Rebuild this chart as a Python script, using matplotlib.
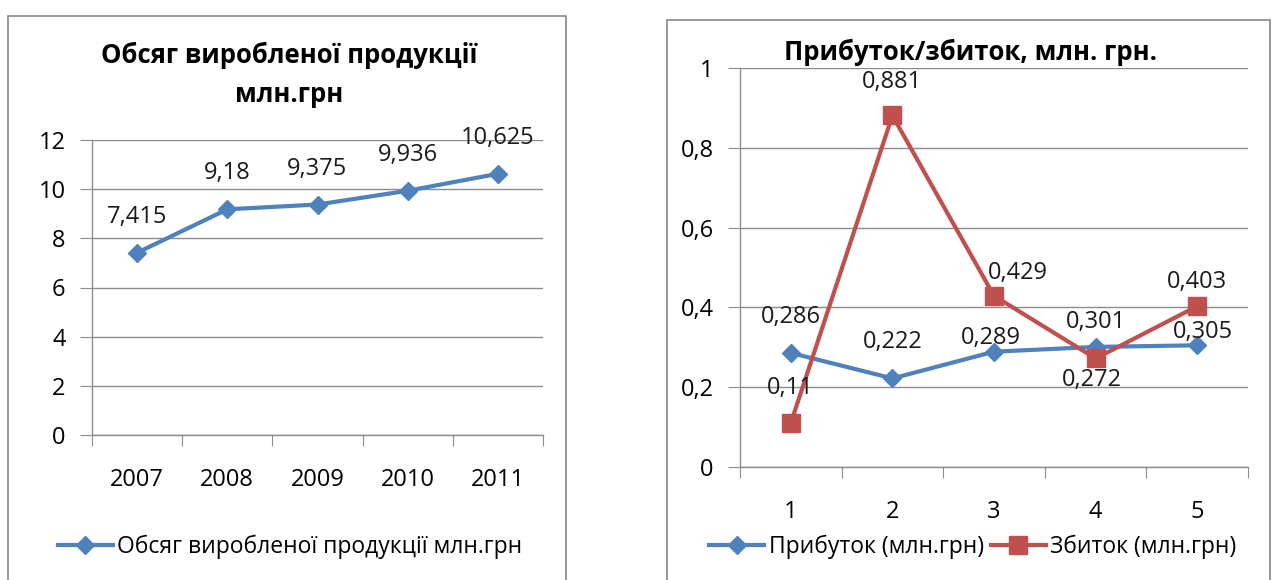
import matplotlib
matplotlib.use('Agg')
import matplotlib.pyplot as plt
from matplotlib.patches import Rectangle

plt.rcParams['font.family'] = ['Open Sans', 'DejaVu Sans']

# дані
years = ['2007', '2008', '2009', '2010', '2011']
obsyag = [7.415, 9.18, 9.375, 9.936, 10.625]

periods = ['1', '2', '3', '4', '5']
prybutok = [0.286, 0.222, 0.289, 0.301, 0.305]
zbytok = [0.11, 0.881, 0.429, 0.272, 0.403]

title_left = 'Обсяг виробленої продукції\nмлн.грн'
title_right = 'Прибуток/збиток, млн. грн.'
legend_left = 'Обсяг виробленої продукції млн.грн'
legend_prybutok = 'Прибуток (млн.грн)'
legend_zbytok = 'Збиток (млн.грн)'

# зсув підписів (пікселі)
off_left = [(0, 36)] * 5
off_pryb = [(0, 36), (0, 36), (-3, 14), (0, 25), (6, 13)]
off_zbyt = [(0, 35), (0, 33), (24, 23), (-4, -22), (0, 24)]

BLUE = '#4F81BD'
RED = '#C0504D'
GRID = '#8C8C8C'
FS = 17


def comma(v):
    return ('%g' % v).replace('.', ',')


def style_axes(ax, n):
    ax.set_xlim(-0.5, n - 0.5)
    ax.set_xticks([i - 0.5 for i in range(n + 1)])
    ax.set_xticklabels([])
    ax.set_xticks(range(n), minor=True)
    ax.tick_params(axis='x', which='major', length=8, color=GRID, direction='out')
    ax.tick_params(axis='x', which='minor', length=0, pad=24, labelsize=FS)
    ax.tick_params(axis='y', length=9, color=GRID, pad=10, labelsize=FS)
    ax.grid(axis='y', color=GRID, lw=1)
    ax.set_axisbelow(True)
    for s in ['top', 'right']:
        ax.spines[s].set_visible(False)
    for s in ['left', 'bottom']:
        ax.spines[s].set_color(GRID)
        ax.spines[s].set_linewidth(1)


def labels(ax, xs, ys, offs):
    for x, y, (dx, dy) in zip(xs, ys, offs):
        ax.annotate(comma(y), (x, y), xytext=(dx, dy), textcoords='offset pixels',
                    ha='center', va='center', fontsize=FS, color='#1a1a1a')


fig = plt.figure(figsize=(12.74, 5.8), dpi=100)

# рамки діаграм
fig.add_artist(Rectangle((8 / 1274, -0.02), 558 / 1274, 1.006 - 8 / 580,
                         transform=fig.transFigure, fill=False, ec='#888888', lw=1.2))
fig.add_artist(Rectangle((667 / 1274, -0.02), 603 / 1274, 1.003 - 10 / 580,
                         transform=fig.transFigure, fill=False, ec='#888888', lw=1.2))

# ліва діаграма
ax1 = fig.add_axes([92 / 1274, 1 - 435 / 580, 451 / 1274, 295 / 580])
x1 = range(len(years))
ax1.plot(x1, obsyag, color=BLUE, lw=3, marker='D', ms=9.5, label=legend_left)
ax1.set_ylim(0, 12)
ax1.set_yticks(range(0, 13, 2))
style_axes(ax1, len(years))
ax1.set_xticklabels(years, minor=True)
labels(ax1, x1, obsyag, off_left)
fig.text(289 / 1274, 1 - 75 / 580, title_left, ha='center', va='center',
         fontsize=18.5, fontweight='bold', linespacing=1.6)
fig.legend(*ax1.get_legend_handles_labels(), loc='center', bbox_to_anchor=(290 / 1274, 1 - 547 / 580),
           frameon=False, fontsize=16.5, handlelength=2.4, handletextpad=0.2)

# права діаграма
ax2 = fig.add_axes([740 / 1274, 1 - 467 / 580, 508 / 1274, 399 / 580])
x2 = range(len(periods))
ax2.plot(x2, prybutok, color=BLUE, lw=3, marker='D', ms=9.5, label=legend_prybutok)
ax2.plot(x2, zbytok, color=RED, lw=3, marker='s', ms=13, label=legend_zbytok)
ax2.set_ylim(0, 1)
yt = [0, 0.2, 0.4, 0.6, 0.8, 1]
ax2.set_yticks(yt)
ax2.set_yticklabels([comma(v) for v in yt])
style_axes(ax2, len(periods))
ax2.set_xticklabels(periods, minor=True)
labels(ax2, x2, prybutok, off_pryb)
labels(ax2, x2, zbytok, off_zbyt)
fig.text(970 / 1274, 1 - 52 / 580, title_right, ha='center', va='center',
         fontsize=18.5, fontweight='bold')
fig.legend(*ax2.get_legend_handles_labels(), loc='center', bbox_to_anchor=(973 / 1274, 1 - 547 / 580),
           ncol=2, frameon=False, fontsize=16.5, handlelength=2.4, handletextpad=0.2,
           columnspacing=0.3)

fig.savefig('out.png', dpi=100)
